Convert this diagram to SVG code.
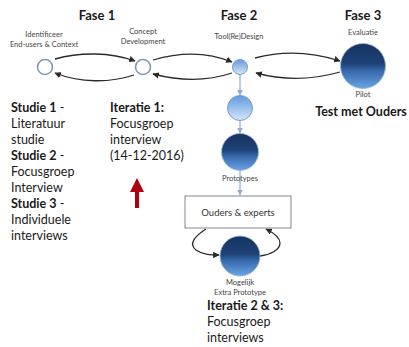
<svg xmlns="http://www.w3.org/2000/svg" width="409" height="347" viewBox="0 0 409 347">
  <defs>
    <linearGradient id="lightBlue" x1="0" y1="0" x2="0" y2="1">
      <stop offset="0" stop-color="#5f9be0"/>
      <stop offset="1" stop-color="#d6e6f8"/>
    </linearGradient>
    <linearGradient id="darkBlue" x1="0" y1="0" x2="0" y2="1">
      <stop offset="0" stop-color="#17335f"/>
      <stop offset="0.45" stop-color="#1d4277"/>
      <stop offset="0.6" stop-color="#3566a8"/>
      <stop offset="1" stop-color="#6aa5e6"/>
    </linearGradient>
    <marker id="arr" viewBox="0 0 10 10" refX="9" refY="5" markerWidth="5" markerHeight="5" orient="auto">
      <path d="M0,0 L10,5 L0,10 z" fill="#2b2b2b"/>
    </marker>
    <marker id="arrBlue" viewBox="0 0 10 10" refX="9" refY="5" markerWidth="5" markerHeight="5" orient="auto">
      <path d="M0,0 L10,5 L0,10 z" fill="#8eaad6"/>
    </marker>
  </defs>
  <style>
    text { font-family: Lato, "Liberation Sans", sans-serif; fill: #1a1a1a; }
    .head { font-size: 13px; font-weight: bold; text-anchor: middle; }
    .small { font-size: 7.5px; fill: #444; text-anchor: middle; }
    .body { font-size: 12.5px; }
    .bold { font-weight: bold; }
    .flow { fill: none; stroke: #2b2b2b; stroke-width: 1.3; marker-end: url(#arr); }
    .down { fill: none; stroke: #8eaad6; stroke-width: 1.2; marker-end: url(#arrBlue); }
    .ring { fill: #ffffff; stroke: #8198b3; stroke-width: 1.6; }
    .lite { fill: url(#lightBlue); stroke: #7d9cc6; stroke-width: 1; }
    .dark { fill: url(#darkBlue); stroke: #9bb5d9; stroke-width: 0.8; }
    .box { fill: #ffffff; stroke: #7f8794; stroke-width: 1; }
  </style>

  <!-- phase headings -->
  <text class="head" x="97" y="20">Fase 1</text>
  <text class="head" x="239" y="20">Fase 2</text>
  <text class="head" x="363" y="20">Fase 3</text>

  <!-- connectors -->
  <g id="connectors">
    <path class="flow" d="M55,59 C80,52 110,52 135,61"/>
    <path class="flow" d="M134,75 C110,83 80,83 55,73"/>
    <path class="flow" d="M153,60 C180,52 208,52 232,62"/>
    <path class="flow" d="M232,73 C208,81 180,81 153,74"/>
    <path class="flow" d="M255,58 C285,50 312,52 340,61"/>
    <path class="flow" d="M340,72 C312,80 285,81 256,73"/>
    <path class="down" d="M240,75 L240,95"/>
    <path class="down" d="M240,121 L240,133"/>
    <path class="down" d="M240,171 L240,195"/>
    <path class="flow" d="M206,229 C195,236 188,244 196,250 C203,255 211,255 219,255"/>
    <path class="flow" d="M260,256 C270,255 280,250 280,243 C280,237 274,233 266,229"/>
  </g>

  <g id="node-identificeer">
    <text class="small" x="44" y="37">Identificeer</text>
    <text class="small" x="44" y="47">End-users &amp; Context</text>
    <circle class="ring" cx="45" cy="67" r="7.5"/>
  </g>

  <g id="node-concept">
    <text class="small" x="143" y="34">Concept</text>
    <text class="small" x="143" y="44">Development</text>
    <circle class="ring" cx="143" cy="67" r="7.5"/>
  </g>

  <g id="node-tool">
    <text class="small" x="239" y="39">Tool(Re)Design</text>
    <circle class="lite" cx="240" cy="67" r="7.5"/>
  </g>

  <g id="node-evaluatie">
    <text class="small" x="363" y="35">Evaluatie</text>
    <circle class="dark" cx="363" cy="66" r="22.5"/>
    <text class="small" x="363" y="97">Pilot</text>
    <text class="head" x="361" y="116" style="font-size:12.5px">Test met Ouders</text>
  </g>

  <g id="node-step">
    <circle class="lite" cx="240" cy="108" r="12.5"/>
  </g>

  <g id="node-prototypes">
    <circle class="dark" cx="240" cy="152" r="18.5"/>
    <text class="small" x="240" y="181">Prototypes</text>
  </g>

  <g id="node-ouders">
    <rect class="box" x="185" y="196" width="106" height="32"/>
    <text x="238" y="216" style="font-size:9.5px; text-anchor:middle; fill:#333">Ouders &amp; experts</text>
  </g>

  <g id="node-extra">
    <circle class="dark" cx="240" cy="256" r="20"/>
    <text class="small" x="240" y="285">Mogelijk</text>
    <text class="small" x="240" y="295">Extra Prototype</text>
  </g>

  <!-- study list -->
  <g id="studies" class="body">
    <text x="11" y="112"><tspan class="bold">Studie 1</tspan> -</text>
    <text x="11" y="128">Literatuur</text>
    <text x="11" y="144">studie</text>
    <text x="11" y="160"><tspan class="bold">Studie 2</tspan> -</text>
    <text x="11" y="176">Focusgroep</text>
    <text x="11" y="192">Interview</text>
    <text x="11" y="208"><tspan class="bold">Studie 3</tspan> -</text>
    <text x="11" y="224">Individuele</text>
    <text x="11" y="240">interviews</text>
  </g>

  <g id="iteratie-1" class="body">
    <text x="110" y="112" class="bold">Iteratie 1:</text>
    <text x="110" y="128">Focusgroep</text>
    <text x="110" y="144">interview</text>
    <text x="110" y="160">(14-12-2016)</text>
  </g>

  <!-- red marker arrow -->
  <path id="red-arrow" d="M137,178 L144,192 L139,192 L139,208 L135,208 L135,192 L130,192 Z" fill="#b0000f"/>

  <g id="iteratie-2-3" class="body">
    <text x="207" y="310" class="bold">Iteratie 2 &amp; 3:</text>
    <text x="207" y="326">Focusgroep</text>
    <text x="207" y="342">interviews</text>
  </g>
</svg>
